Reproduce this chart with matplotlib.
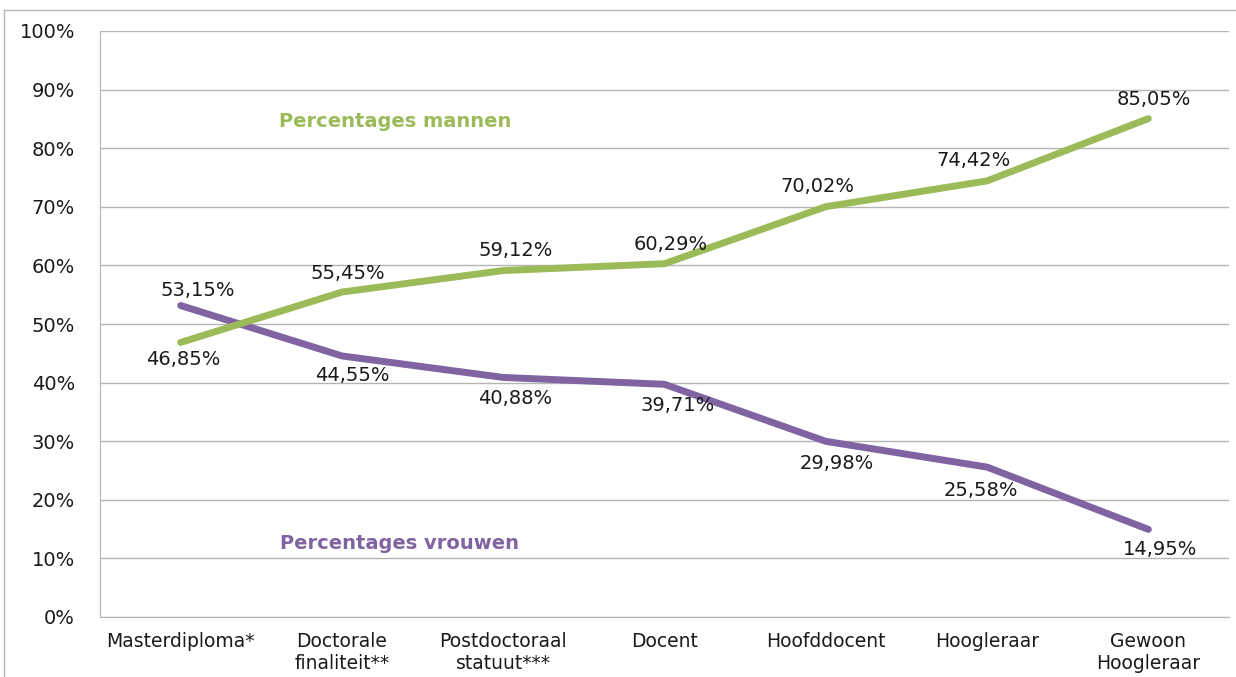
import matplotlib.pyplot as plt
from matplotlib.lines import Line2D

plt.rcParams['font.family'] = ['DejaVu Sans']

# Data
categories = ['Masterdiploma*', 'Doctorale\nfinaliteit**', 'Postdoctoraal\nstatuut***',
              'Docent', 'Hoofddocent', 'Hoogleraar', 'Gewoon\nHoogleraar']
mannen = [46.85, 55.45, 59.12, 60.29, 70.02, 74.42, 85.05]
vrouwen = [53.15, 44.55, 40.88, 39.71, 29.98, 25.58, 14.95]

# label offsets in pixels (dx, dy)
off_m = [(3, -17), (6, 19), (12, 20), (6, 19), (-8, 20), (-14, 20), (5, 19)]
off_v = [(17, 15), (10, -20), (12, -21), (13, -21), (11, -22), (-6, -23), (12, -20)]

green = '#9BBB59'
purple = '#8064A2'


def fmt(v):
    return f'{v:.2f}'.replace('.', ',') + '%'


fig = plt.figure(figsize=(12.36, 6.77), dpi=100)
ax = fig.add_axes([100 / 1236, 60 / 677, 1129 / 1236, 586 / 677])

x = list(range(len(categories)))
ax.plot(x, vrouwen, color=purple, linewidth=5, solid_capstyle='round', zorder=3)
ax.plot(x, mannen, color=green, linewidth=5, solid_capstyle='round', zorder=3)

for i in x:
    dx, dy = off_m[i]
    ax.annotate(fmt(mannen[i]), (i, mannen[i]), xytext=(dx * 0.72, dy * 0.72),
                textcoords='offset points', ha='center', va='center',
                fontsize=14, color='#1a1a1a', zorder=4)
    dx, dy = off_v[i]
    ax.annotate(fmt(vrouwen[i]), (i, vrouwen[i]), xytext=(dx * 0.72, dy * 0.72),
                textcoords='offset points', ha='center', va='center',
                fontsize=14, color='#1a1a1a', zorder=4)

ax.text(1.33, 84.5, 'Percentages mannen', color=green, fontsize=14,
        fontweight='bold', ha='center', va='center')
ax.text(1.36, 12.6, 'Percentages vrouwen', color=purple, fontsize=14,
        fontweight='bold', ha='center', va='center')

ax.set_xlim(-0.5, len(categories) - 0.5)
ax.set_ylim(0, 100)
ax.set_yticks(range(0, 101, 10))
ax.set_yticklabels([f'{v}%' for v in range(0, 101, 10)])
ax.set_xticks(x)
ax.set_xticklabels(categories, linespacing=1.15)
ax.tick_params(axis='y', length=0, pad=18, labelsize=14, labelcolor='#1a1a1a')
ax.tick_params(axis='x', length=0, pad=11, labelsize=13.5, labelcolor='#1a1a1a')

ax.grid(axis='y', color='#b5b5b5', linewidth=1)
ax.set_axisbelow(True)
for s in ['top', 'right']:
    ax.spines[s].set_visible(False)
ax.spines['left'].set_color('#b5b5b5')
ax.spines['bottom'].set_color('#b5b5b5')

# outer frame (top and left lines)
fig.add_artist(Line2D([4 / 1236, 1], [1 - 10 / 677, 1 - 10 / 677],
                      transform=fig.transFigure, color='#b5b5b5', linewidth=1))
fig.add_artist(Line2D([4 / 1236, 4 / 1236], [0, 1 - 10 / 677],
                      transform=fig.transFigure, color='#b5b5b5', linewidth=1))

fig.savefig('out.png', dpi=100)
